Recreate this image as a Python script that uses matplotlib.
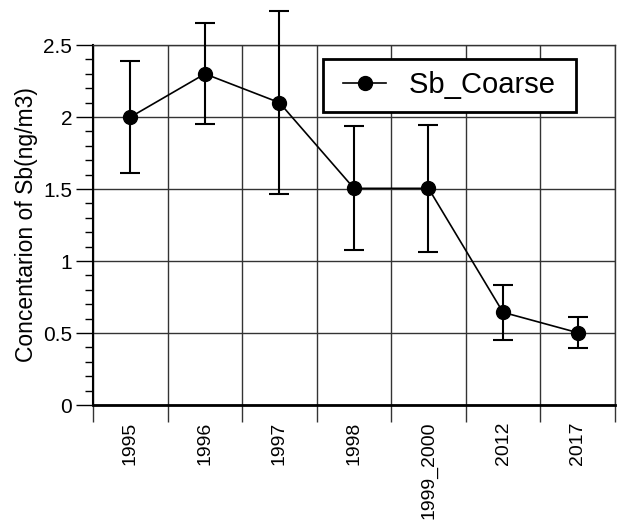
import numpy as np
import matplotlib.pyplot as plt
from matplotlib.ticker import MultipleLocator, FixedLocator
from matplotlib.lines import Line2D
from matplotlib.legend_handler import HandlerLine2D

plt.rcParams['font.family'] = ['Liberation Sans', 'DejaVu Sans']

years = ["1995", "1996", "1997", "1998", "1999_2000", "2012", "2017"]
sb_coarse = [2.0, 2.30, 2.10, 1.505, 1.505, 0.644, 0.503]
sb_err = [0.39, 0.35, 0.635, 0.43, 0.44, 0.19, 0.11]


class ShiftedLine(HandlerLine2D):
    # legend handle drawn a bit in from the left edge of the frame
    def create_artists(self, legend, orig_handle, xdescent, ydescent,
                       width, height, fontsize, trans):
        shift = 6.0
        return super().create_artists(legend, orig_handle, xdescent - shift,
                                      ydescent, width - shift, height,
                                      fontsize, trans)


fig = plt.figure(figsize=(6.21, 5.24), dpi=100)
ax = fig.add_axes([0.150, 0.227, 0.840, 0.687])

x = np.arange(len(years))
eb = ax.errorbar(x, sb_coarse, yerr=sb_err, color="black", marker="o",
                 markersize=10, linewidth=1.2, elinewidth=1.5, capsize=7,
                 capthick=1.5, clip_on=False, zorder=3)
for art in eb.lines[1]:
    art.set_clip_on(False)
for art in eb.lines[2]:
    art.set_clip_on(False)

ax.set_xlim(-0.5, len(years) - 0.5)
ax.set_ylim(0, 2.5)

ax.set_xticks(x)
ax.set_xticklabels(years, rotation=90, fontsize=14)
ax.xaxis.set_minor_locator(FixedLocator(np.arange(-0.5, len(years), 1.0)))
ax.tick_params(axis="x", which="major", length=0, pad=12)
ax.tick_params(axis="x", which="minor", length=12, width=1, color="#333333")

ax.yaxis.set_minor_locator(MultipleLocator(0.1))
ax.set_yticks([0, 0.5, 1, 1.5, 2, 2.5])
ax.set_yticklabels(["0", "0.5", "1", "1.5", "2", "2.5"], fontsize=15)
ax.tick_params(axis="y", which="major", length=12, width=1, pad=3)
ax.tick_params(axis="y", which="minor", length=6, width=1)

ax.grid(True, axis="y", which="major", color="#333333", linewidth=1)
ax.grid(True, axis="x", which="minor", color="#333333", linewidth=1)
ax.set_axisbelow(True)

for side in ["top", "right"]:
    ax.spines[side].set_color("#333333")
    ax.spines[side].set_linewidth(1)
ax.spines["left"].set_linewidth(1.5)
ax.spines["bottom"].set_linewidth(2)

ax.set_ylabel("Concentarion of Sb(ng/m3)", fontsize=16.5, labelpad=4)

handle = Line2D([], [], color="black", marker="o", markersize=10, linewidth=1.2)
leg = ax.legend([handle], ["Sb_Coarse "], loc="upper right",
                bbox_to_anchor=(0.925, 0.961), fontsize=21,
                handler_map={Line2D: ShiftedLine()},
                frameon=True, fancybox=False, numpoints=1, handlelength=1.75,
                borderpad=0.42, handletextpad=0.8, borderaxespad=0)
leg.get_frame().set_edgecolor("black")
leg.get_frame().set_linewidth(2)
leg.get_frame().set_alpha(1)

fig.savefig("out.png", dpi=100)
